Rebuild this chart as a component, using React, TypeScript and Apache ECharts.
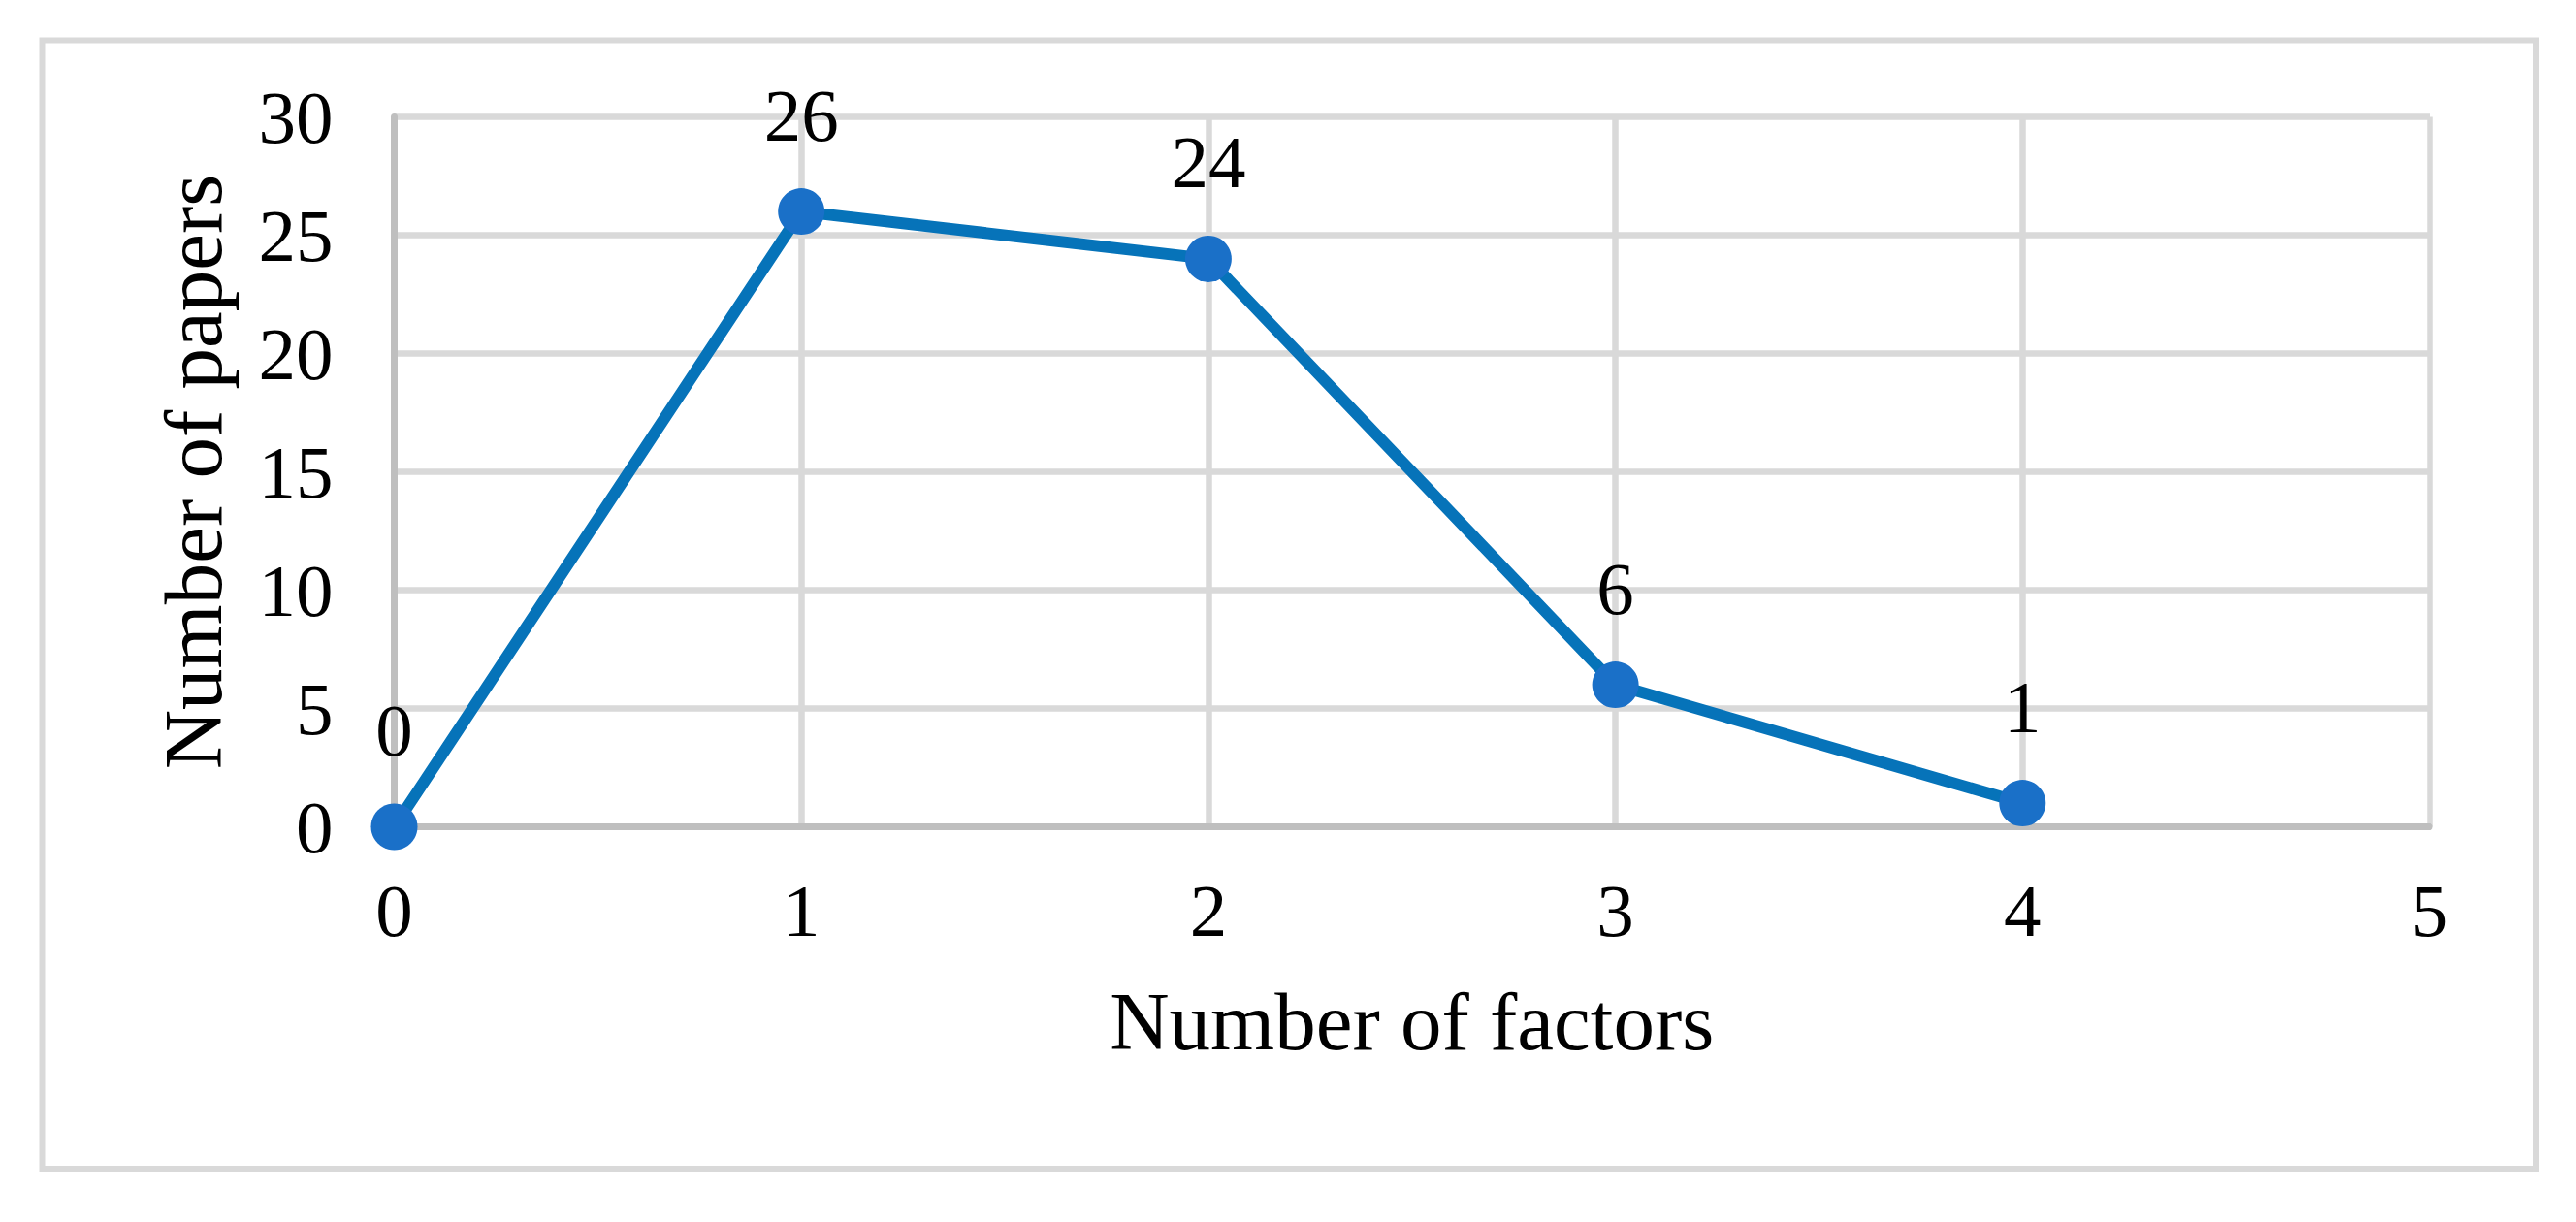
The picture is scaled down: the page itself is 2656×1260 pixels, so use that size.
import React, { useEffect, useRef } from "react";
import * as echarts from "echarts";

const factors: number[] = [0, 1, 2, 3, 4];
const papers: number[] = [0, 26, 24, 6, 1];
const xTitle = "Number of factors";
const yTitle = "Number of papers";

const FONT = "'Liberation Serif', 'Times New Roman', serif";

export default function App() {
  const ref = useRef<HTMLDivElement>(null);
  useEffect(() => {
    if (!ref.current) return;
    const chart = echarts.init(ref.current, null, { renderer: "svg" });
    chart.setOption({
      animation: false,
      backgroundColor: "#ffffff",
      grid: { left: 406.5, right: 151, top: 120.5, bottom: 407.5, containLabel: false },
      graphic: [
        {
          type: "rect",
          shape: { x: 43.5, y: 41.5, width: 2571.5, height: 1163.5 },
          style: { fill: "none", stroke: "#d9d9d9", lineWidth: 6 },
          z: -1,
        },
      ],
      xAxis: {
        type: "value",
        min: 0,
        max: 5,
        interval: 1,
        name: xTitle,
        nameLocation: "middle",
        nameGap: 158,
        nameTextStyle: { fontFamily: FONT, fontSize: 85, color: "#000" },
        axisLine: { show: true, lineStyle: { color: "#bfbfbf", width: 7 } },
        axisTick: { show: false },
        axisLabel: { fontFamily: FONT, fontSize: 77, color: "#000", margin: 48 },
        splitLine: { show: true, lineStyle: { color: "#d9d9d9", width: 6.5 } },
      },
      yAxis: {
        type: "value",
        min: 0,
        max: 30,
        interval: 5,
        name: yTitle,
        nameLocation: "middle",
        nameRotate: 90,
        nameGap: 165,
        nameTextStyle: { fontFamily: FONT, fontSize: 85, color: "#000" },
        axisLine: { show: true, lineStyle: { color: "#bfbfbf", width: 7 } },
        axisTick: { show: false },
        axisLabel: { fontFamily: FONT, fontSize: 77, color: "#000", margin: 63 },
        splitLine: { show: true, lineStyle: { color: "#d9d9d9", width: 6.5 } },
      },
      series: [
        {
          type: "line",
          data: factors.map((f, i) => [f, papers[i]]),
          symbol: "circle",
          symbolSize: 48,
          lineStyle: { color: "#0673b9", width: 12 },
          itemStyle: { color: "#1a70c8" },
          label: {
            show: true,
            position: "top",
            distance: 37,
            fontFamily: FONT,
            fontSize: 77,
            color: "#000",
            formatter: (p: any) => String(p.value[1]),
          },
        },
      ],
    });
    return () => chart.dispose();
  }, []);
  return (
    <div
      ref={ref}
      style={{ position: "fixed", left: 0, top: 0, width: 2656, height: 1260, background: "#fff" }}
    />
  );
}
